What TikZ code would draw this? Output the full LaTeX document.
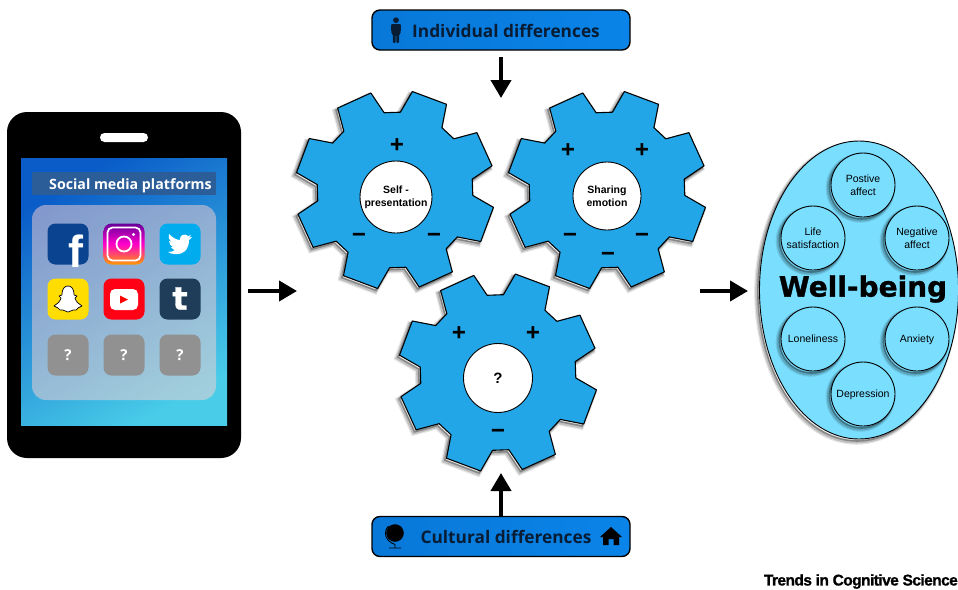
\documentclass[tikz,border=0pt]{standalone}
\usepackage{fontspec}
\setmainfont{Liberation Sans}
\newfontfamily\boxfont{Open Sans}
\newfontfamily\heavyfont[BoldFeatures={FakeBold=1.1}]{DejaVu Sans}
\newfontfamily\journalfont[LetterSpace=-3.6,BoldFeatures={FakeBold=1.2}]{Liberation Sans}
\usetikzlibrary{arrows.meta,shapes.geometric}
\definecolor{gearblue}{HTML}{22A6E8}
\definecolor{wellblue}{HTML}{7ADEFF}
\definecolor{navyink}{HTML}{081C34}
\tikzset{
  softshadow/.style={
    preaction={draw=black,draw opacity=.10,line width=5.5pt,transform canvas={shift={(-2.6pt,-3pt)}}},
    preaction={draw=black,draw opacity=.16,line width=3.5pt,transform canvas={shift={(-2.4pt,-2.8pt)}}},
    preaction={draw=black,draw opacity=.30,line width=1.6pt,transform canvas={shift={(-1.6pt,-2pt)}}}},
  gearbody/.style={draw=black,fill=gearblue,line width=1.1pt,line join=round,softshadow},
  hub/.style={circle,draw=black,fill=white,line width=.9pt,inner sep=0pt,align=center,
    font=\bfseries\fontsize{10.5}{12.8}\selectfont},
  sign/.style={inner sep=0pt,font=\boxfont\bfseries\fontsize{25}{25}\selectfont},
  flow/.style={line width=4pt,-{Triangle[width=20pt,length=18pt]}},
  diffbox/.style={rectangle,rounded corners=8pt,draw=black,line width=1.4pt,left color={rgb,255:red,8;green,120;blue,216},
    right color={rgb,255:red,10;green,132;blue,232},minimum width=258pt,minimum height=40pt,inner sep=0pt},
  difftext/.style={inner sep=0pt,text=navyink,font=\boxfont\bfseries\fontsize{17.3}{22}\selectfont},
  appicon/.style={rectangle,rounded corners=8pt,minimum size=41pt,inner sep=0pt},
  whitetext/.style={text=white,inner sep=0pt,font=\bfseries},
  facet/.style={circle,draw=black,fill=wellblue,line width=.9pt,minimum size=64pt,inner sep=0pt,
    align=center,softshadow,font=\fontsize{10.5}{12.6}\selectfont}
}
\newcommand{\gearat}[2]{
  \path[gearbody,shift={(#1,#2)}] (-8:78)
  \foreach \a in {-2,43,...,313}{ -- (\a-6:78) -- (\a+6:78) -- (\a+12:100) -- (\a+33:100) } -- cycle;
}
\newcommand{\lowered}{\rule[-2.5pt]{0pt}{11pt}}
\begin{document}
\begin{tikzpicture}[x=1pt,y=-1pt]
  \useasboundingbox (0,0) rectangle (958,589);

  \node[rectangle,rounded corners=20pt,fill=black,minimum width=234pt,minimum height=346pt,inner sep=0pt] (phone) at (124,285) {};
  \node[rectangle,rounded corners=4.5pt,fill=white,minimum width=48pt,minimum height=9pt,inner sep=0pt] (speaker) at (124,137.5) {};
  \node[rectangle,inner sep=0pt,minimum width=206pt,minimum height=267pt,
    top color={rgb,255:red,10;green,92;blue,200},middle color={rgb,255:red,0;green,140;blue,216},
    bottom color={rgb,255:red,72;green,204;blue,232},shading angle=30] (screen) at (124,291.5) {};
  \node[rectangle,fill={rgb,255:red,250;green,209;blue,209},fill opacity=.5,rounded corners=14pt,minimum width=184pt,minimum height=195pt,inner sep=0pt] (panel) at (124,302.5) {};
  \node[rectangle,fill={rgb,255:red,43;green,94;blue,152},minimum width=184pt,minimum height=23pt,inner sep=0pt] (titlebar) at (124,183.5) {};
  \node[whitetext,anchor=west,font=\boxfont\bfseries\fontsize{14.2}{16}\selectfont] (platforms) at (49,185.5) {Social media platforms};

  \node[appicon,fill={rgb,255:red,10;green,68;blue,144}] (facebook) at (68,244) {};
  \node[whitetext,font=\bfseries\fontsize{45}{45}\selectfont] (fglyph) at (76,251) {f};
  \node[appicon,top color=violet!80!blue,bottom color=orange!80!yellow,middle color=magenta!80!red] (instagram) at (124,244) {};
  \draw[white,line width=1.8pt,rounded corners=5pt] (107.5,227.5) rectangle (140.5,260.5);
  \node[circle,draw=white,line width=1.8pt,minimum size=15pt,inner sep=0pt] (lens) at (124,244) {};
  \node[circle,fill=white,minimum size=3.4pt,inner sep=0pt] (flash) at (133.5,234.5) {};
  \node[appicon,fill={rgb,255:red,0;green,172;blue,238}] (twitter) at (180,244) {};
  \fill[white,shift={(180,244)}] (-12,8) .. controls (-6,12) and (9,12) .. (9,-4) -- (12,-7) -- (9,-6.5) -- (11,-9) -- (8,-8)
    .. controls (5,-11) and (-1,-9) .. (0,-4) .. controls (-4,-4) and (-8,-7) .. (-11,-10)
    .. controls (-12,-7) and (-11,-4) .. (-9,-2.5) -- (-11,-3) .. controls (-11,0) and (-9,2) .. (-7,3) -- (-9,3)
    .. controls (-8,5) and (-6,6) .. (-5,6) .. controls (-7,7.5) and (-9,8) .. (-12,8) -- cycle;
  \node[appicon,fill={rgb,255:red,255;green,221;blue,0}] (snapchat) at (68,299) {};
  \draw[black,fill=white,line width=.7pt,line join=round,shift={(68,299)}] (-6,-4) .. controls (-6,-11) and (-3,-13) .. (0,-13)
    .. controls (3,-13) and (6,-11) .. (6,-4) -- (9,-3) -- (7,-1) .. controls (8,3) and (11,5) .. (14,7) -- (10,9) -- (8,11)
    .. controls (4,10) and (3,13) .. (0,13) .. controls (-3,13) and (-4,10) .. (-8,11) -- (-10,9) -- (-14,7)
    .. controls (-11,5) and (-8,3) .. (-7,-1) -- (-9,-3) -- cycle;
  \node[appicon,fill={rgb,255:red,255;green,0;blue,20}] (youtube) at (124,299) {};
  \node[rectangle,rounded corners=5pt,fill=white,minimum width=28pt,minimum height=21pt,inner sep=0pt] (player) at (124,299.5) {};
  \fill[red] (120,295.5) -- (128,299.5) -- (120,303.5) -- cycle;
  \node[appicon,fill={rgb,255:red,31;green,61;blue,88}] (tumblr) at (180,299) {};
  \node[whitetext,font=\heavyfont\bfseries\fontsize{32}{32}\selectfont] (tglyph) at (180,298.5) {t};
  \foreach \x/\n in {68/a,124/b,180/c}{
    \node[appicon,fill=black!43] (unknown\n) at (\x,355) {};
    \node[whitetext,font=\boxfont\bfseries\fontsize{15}{15}\selectfont] (mark\n) at (\x,355) {?};
  }

  \gearat{395}{190}
  \gearat{607}{190}
  \gearat{498}{372.5}
  \node[hub,minimum size=72pt] (selfpres) at (396,197) {\lowered Self -\\presentation};
  \node[hub,minimum size=68pt] (sharing) at (607,196) {Sharing\\emotion};
  \node[hub,minimum size=69pt,font=\bfseries\fontsize{15}{15}\selectfont] (unknowngear) at (498,378) {?};
  \node[sign] (ga) at (397,146) {+};
  \node[sign] (gb) at (359,238) {−};
  \node[sign] (gc) at (434,238) {−};
  \node[sign] (gd) at (568,151) {+};
  \node[sign] (ge) at (642,151) {+};
  \node[sign] (gf) at (570,238) {−};
  \node[sign] (gg) at (642,238) {−};
  \node[sign] (gh) at (608,257) {−};
  \node[sign] (gi) at (459,334) {+};
  \node[sign] (gj) at (533,334) {+};
  \node[sign] (gk) at (498,434) {−};

  \node[diffbox] (indiv) at (501,30) {};
  \node[difftext] (indivtext) at (506,30.5) {Individual differences};
  \fill[navyink,shift={(396,0)}] (0,20.2) circle (2.9);
  \fill[navyink,rounded corners=1pt,shift={(396,0)}] (-5,24) -- (5,24) -- (4.6,34) -- (3.2,34) -- (3.2,43) -- (.4,43) -- (.4,35) -- (-.4,35) -- (-.4,43) -- (-3.2,43) -- (-3.2,34) -- (-4.6,34) -- cycle;
  \node[diffbox] (cult) at (501,536.5) {};
  \node[difftext] (culttext) at (506,537) {Cultural differences};
  \fill[black] (395,533) circle (8.8);
  \draw[black,line width=.9pt] (388.5,526) .. controls (383,532) and (385,541) .. (395,544.5) -- (395,548) (389,548) -- (401,548);
  \fill[black] (611,527) -- (622,537) -- (619,537) -- (619,545) -- (613.5,545) -- (613.5,539) -- (608.5,539) -- (608.5,545) -- (603,545) -- (603,537) -- (600,537) -- cycle;

  \coordinate (topend) at (501,98);
  \coordinate (topstart) at (501,57);
  \coordinate (botend) at (501,473);
  \coordinate (leftstart) at (248,291);
  \coordinate (leftend) at (297,291);
  \coordinate (rightstart) at (700,291);
  \coordinate (rightend) at (748,291);
  \path[flow,black]
  (topstart) edge (topend)
  (cult) edge (botend)
  (leftstart) edge (leftend)
  (rightstart) edge (rightend);

  \node[ellipse,draw=black,fill=wellblue,line width=.9pt,minimum width=199pt,minimum height=298pt,inner sep=0pt,softshadow] (wellbeing) at (859,290) {};
  \node[facet] (posaffect) at (863,185) {Postive\\affect};
  \node[facet] (negaffect) at (917,238) {Negative\\affect};
  \node[facet] (lifesat) at (813,238) {Life\\satisfaction};
  \node[facet] (lonely) at (813,339) {\lowered Loneliness};
  \node[facet] (anxiety) at (917,339) {\lowered Anxiety};
  \node[facet] (depress) at (863,394) {\lowered Depression};
  \node[inner sep=0pt,font=\heavyfont\bfseries\fontsize{28}{28}\selectfont] (wellname) at (863,289) {Well-being};

  \node[inner sep=0pt,anchor=east,font=\journalfont\bfseries\fontsize{15.5}{16}\selectfont] (journal) at (958,581.5) {Trends in Cognitive Science};
\end{tikzpicture}
\end{document}
